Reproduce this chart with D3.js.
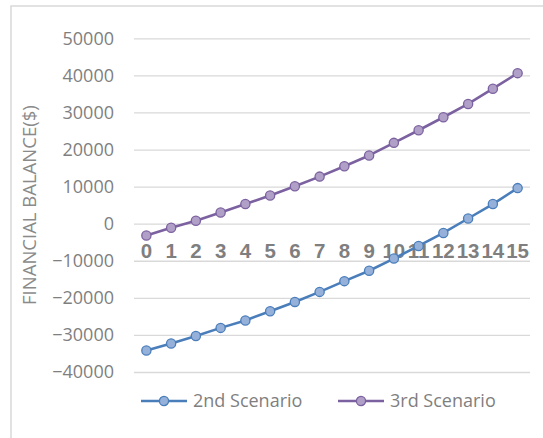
<!DOCTYPE html>
<html>
<head>
<meta charset="utf-8">
<script src="https://cdn.jsdelivr.net/npm/d3@7"></script>
<style>
  html, body { margin: 0; padding: 0; background: #fff; }
  svg { display: block; }
</style>
</head>
<body>
<svg id="chart" width="543" height="438"></svg>
<script>
// Years of the projection and the balance for each scenario
const years = ["0","1","2","3","4","5","6","7","8","9","10","11","12","13","14","15"];
const scenario2 = [-34200, -32300, -30300, -28100, -26100, -23600, -21100, -18400,
                   -15500, -12700, -9400, -6000, -2500, 1400, 5300, 9600];
const scenario3 = [-3200, -1100, 800, 3000, 5300, 7600, 10100, 12700,
                   15500, 18400, 21800, 25200, 28700, 32300, 36400, 40600];
const yTicks = [50000, 40000, 30000, 20000, 10000, 0, -10000, -20000, -30000, -40000];
const seriesNames = ["2nd Scenario", "3rd Scenario"];

const svg = d3.select("#chart");
const uiFont = "'Open Sans', 'Noto Sans', sans-serif";
const textGray = "#7f7f7f";
const gridGray = "#d9d9d9";

const series = [
  { name: seriesNames[0], values: scenario2, stroke: "#4a7ebb", fill: "#95b0d9" },
  { name: seriesNames[1], values: scenario3, stroke: "#7c61a0", fill: "#b09fc6" }
];

// Chart frame
svg.append("rect")
  .attr("x", 11).attr("y", 6)
  .attr("width", 560).attr("height", 460)
  .attr("fill", "#fff")
  .attr("stroke", gridGray)
  .attr("stroke-width", 1.5);

const x = d3.scaleBand().domain(years).range([134, 530]).padding(0);
const y = d3.scaleLinear().domain([-40000, 50000]).range([372, 38.3]);

// Value axis with full-width gridlines
const yAxis = svg.append("g")
  .attr("transform", `translate(${x.range()[0]},0)`)
  .call(d3.axisLeft(y).tickValues(yTicks)
    .tickSize(-(x.range()[1] - x.range()[0]))
    .tickPadding(20)
    .tickFormat(d3.format("d")));
yAxis.select(".domain").remove();
yAxis.selectAll(".tick line").attr("stroke", gridGray).attr("stroke-width", 1.3);
yAxis.selectAll(".tick text")
  .attr("fill", textGray)
  .style("font-family", uiFont)
  .style("font-size", "18px");

// Axis title
svg.append("text")
  .attr("transform", `translate(36, ${(y.range()[0] + y.range()[1]) / 2}) rotate(-90)`)
  .attr("text-anchor", "middle")
  .attr("fill", "#8a8a8a")
  .style("font-family", uiFont)
  .style("font-size", "18.5px")
  .text("FINANCIAL BALANCE($)");

// Category labels sit just under the zero line
const xAxis = svg.append("g")
  .attr("transform", `translate(0,${y(0)})`)
  .call(d3.axisBottom(x).tickSize(0).tickPadding(19.5));
xAxis.select(".domain").remove();
xAxis.selectAll(".tick text")
  .attr("fill", textGray)
  .style("font-family", "'Liberation Sans', Arial, sans-serif")
  .style("font-weight", "bold")
  .style("font-size", "20.5px");

// Lines and markers
const line = d3.line()
  .x((d, i) => x(years[i]) + x.bandwidth() / 2)
  .y(d => y(d));

series.forEach(s => {
  svg.append("path")
    .datum(s.values)
    .attr("fill", "none")
    .attr("stroke", s.stroke)
    .attr("stroke-width", 2.6)
    .attr("stroke-linejoin", "round")
    .attr("d", line);
  svg.append("g").selectAll("circle")
    .data(s.values)
    .join("circle")
    .attr("cx", (d, i) => x(years[i]) + x.bandwidth() / 2)
    .attr("cy", d => y(d))
    .attr("r", 4.6)
    .attr("fill", s.fill)
    .attr("stroke", s.stroke)
    .attr("stroke-width", 1.3);
});

// Legend
const legendX = [141, 338];
const legend = svg.append("g");
series.forEach((s, i) => {
  const g = legend.append("g").attr("transform", `translate(${legendX[i]},401)`);
  g.append("line").attr("x1", 0).attr("x2", 46).attr("y1", 0).attr("y2", 0)
    .attr("stroke", s.stroke).attr("stroke-width", 2.6);
  g.append("circle").attr("cx", 23).attr("cy", 0).attr("r", 4.6)
    .attr("fill", s.fill).attr("stroke", s.stroke).attr("stroke-width", 1.3);
  g.append("text").attr("x", 52).attr("y", 0).attr("dy", "0.35em")
    .attr("fill", textGray)
    .style("font-family", uiFont)
    .style("font-size", "18px")
    .text(s.name);
});
</script>
</body>
</html>
